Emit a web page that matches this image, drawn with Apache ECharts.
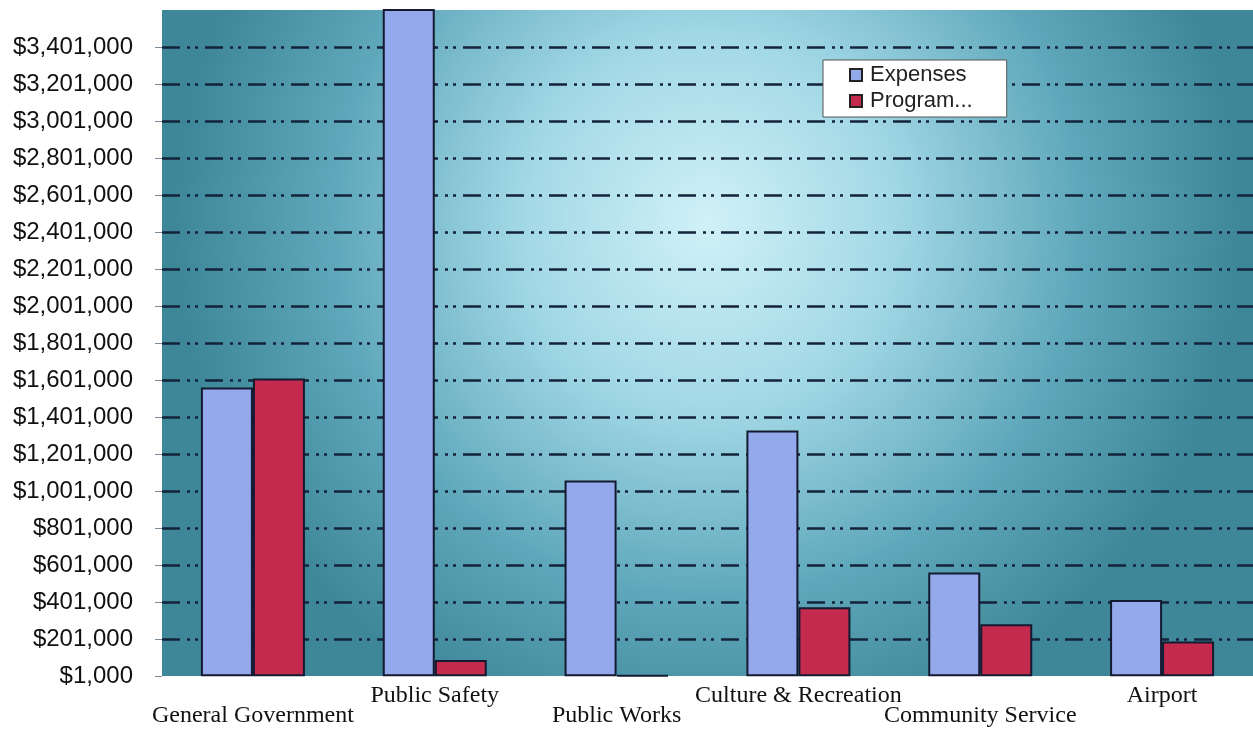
<!DOCTYPE html>
<html><head><meta charset="utf-8">
<script src="https://cdn.jsdelivr.net/npm/echarts@6/dist/echarts.min.js"></script>
<style>html,body{margin:0;padding:0;background:#fff}#c{width:1253px;height:730px}</style>
</head><body><div id="c"></div>
<script>
const categories = ['General Government','Public Safety','Public Works','Culture & Recreation','Community Service','Airport'];
const expenses = [1561000, 3700000, 1058000, 1328000, 561000, 412000];
const programRevenue = [1609000, 88000, 6000, 372000, 281000, 187000];
const seriesNames = ['Expenses','Program...'];
const yMin = 1000, yMax = 3601000, yStep = 200000;

const chart = echarts.init(document.getElementById('c'));
const fmt = v => '$' + v.toLocaleString('en-US');
const nLines = Math.round((yMax - yMin) / yStep) + 1;
const lineColors = [];
for (let i = 0; i < nLines; i++) lineColors.push(i === 0 || i === nLines - 1 ? 'rgba(0,0,0,0)' : '#14233a');
chart.setOption({
  animation:false,
  grid:{left:162,right:0,top:10,bottom:54,show:true,borderWidth:0,
    backgroundColor:new echarts.graphic.RadialGradient(0.5,0.32,0.8,[
      {offset:0,color:'#d0f1f7'},{offset:0.35,color:'#a2d8e6'},{offset:0.7,color:'#5fa8bb'},{offset:1,color:'#3d8798'}])},
  legend:{orient:'vertical',left:823,top:60,itemWidth:12,itemHeight:12,itemGap:4,icon:'rect',
    backgroundColor:'#ffffff',borderColor:'#555',borderWidth:1,padding:[4,34,5,26],
    textStyle:{fontFamily:'Liberation Sans',fontSize:22,color:'#222',padding:[0,0,0,3]},
    data:seriesNames.map(n=>({name:n,itemStyle:{borderColor:'#222',borderWidth:2}}))},
  xAxis:{type:'category',data:categories,axisLine:{show:false},axisTick:{show:false},
    axisLabel:{interval:0,margin:6,fontFamily:'Liberation Serif',fontSize:24,color:'#111',
      formatter:(v,i)=> i%2===0 ? '{lo|'+v+'}' : '{hi|'+v+'}',
      rich:{lo:{fontFamily:'Liberation Serif',fontSize:24,color:'#111',padding:[22,0,0,0]},
            hi:{fontFamily:'Liberation Serif',fontSize:24,color:'#111',padding:[2,0,0,0]}}}},
  yAxis:{type:'value',min:yMin,max:yMax,interval:yStep,
    axisLine:{show:false},
    axisTick:{show:true,length:7,lineStyle:{color:'#7a8a9a',width:1}},
    axisLabel:{margin:29,fontFamily:'Liberation Sans',fontSize:24,color:'#111',showMaxLabel:false,
      formatter:v=> v>=yMax? '' : fmt(v)},
    splitLine:{show:true,lineStyle:{color:lineColors,width:2.5,type:[18,7,3,5,3,7]}}},
  series:[
    {name:seriesNames[0],type:'bar',data:expenses,barWidth:52,barGap:'0%',
      itemStyle:{color:'#94a8ec',borderColor:'#141a30',borderWidth:2}},
    {name:seriesNames[1],type:'bar',data:programRevenue,barWidth:52,barGap:'0%',
      itemStyle:{color:'#c42a4e',borderColor:'#141a30',borderWidth:2}}
  ]
});
</script></body></html>
